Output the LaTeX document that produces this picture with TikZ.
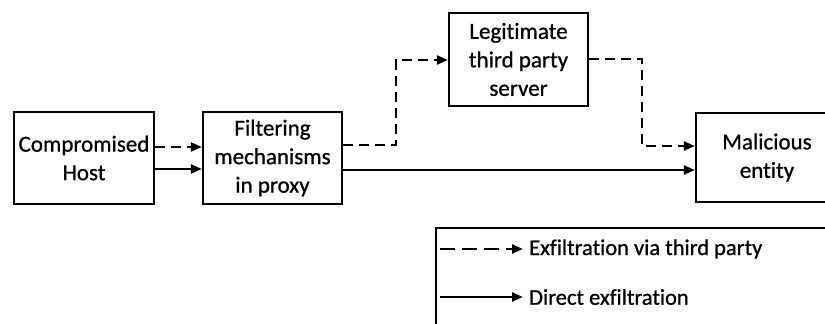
\documentclass[tikz,border=0pt]{standalone}
\usepackage{fontspec}
\setmainfont{Carlito}[RawFeature=-liga, FakeBold=0.8]
\usetikzlibrary{arrows.meta}
\begin{document}
\begin{tikzpicture}[x=1pt,y=-1pt,
  blk/.style={draw, line width=2.3pt, align=center, inner sep=0pt,
    font=\fontsize{23}{28.5}\selectfont},
  flow/.style={line width=2.2pt, -{Triangle[length=11pt,width=9pt]}},
  viathird/.style={flow, dash pattern=on 10pt off 6pt},
  lgd/.style={anchor=west, inner sep=0pt, font=\fontsize{22.5}{27}\selectfont}]
\useasboundingbox (0,0) rectangle (825,324);
\clip (0,0) rectangle (825,324);

% blocks
\node[blk, minimum width=140pt, minimum height=92pt] (host) at (84,158) {Compromised\\Host};
\node[blk, minimum width=139pt, minimum height=92pt] (filter) at (272.5,158) {Filtering\\mechanisms\\in proxy};
\node[blk, minimum width=139pt, minimum height=93pt] (legit) at (518.5,59.5) {Legitimate\\third party\\server};
\node[blk, minimum width=142pt, minimum height=89pt] (mal) at (767,157.5) {Malicious\\entity};

% host to proxy
\draw[viathird] (host.east |- 0,147) -- (filter.west |- 0,147);
\draw[flow] (host.east |- 0,169) -- (filter.west |- 0,169);

% path through the third party server
\coordinate (up1) at (396,145);
\coordinate (up2) at (396,60);
\draw[viathird] (filter.east |- up1) -- (up1) -- (up2) -- (legit.west |- up2);
\coordinate (dn1) at (642,59);
\coordinate (dn2) at (642,146);
\draw[viathird] (legit.east |- dn1) -- (dn1) -- (dn2) -- (mal.west |- dn2);

% direct path
\draw[flow] (filter.east |- 0,170) -- (mal.west |- 0,170);

% legend
\coordinate (lgtop) at (436,228);
\draw[line width=1.8pt] (825,228) -- (lgtop) -- (436,324);
\coordinate (l1a) at (440,249);
\coordinate (l1b) at (523,249);
\coordinate (l2a) at (440,297);
\coordinate (l2b) at (523,297);
\draw[viathird, dash pattern=on 15pt off 7pt] (l1a) -- (l1b);
\draw[flow] (l2a) -- (l2b);
\node[lgd] (t1) at (529,249) {Exfiltration via third party};
\node[lgd] (t2) at (529,297) {Direct exfiltration};
\end{tikzpicture}
\end{document}
